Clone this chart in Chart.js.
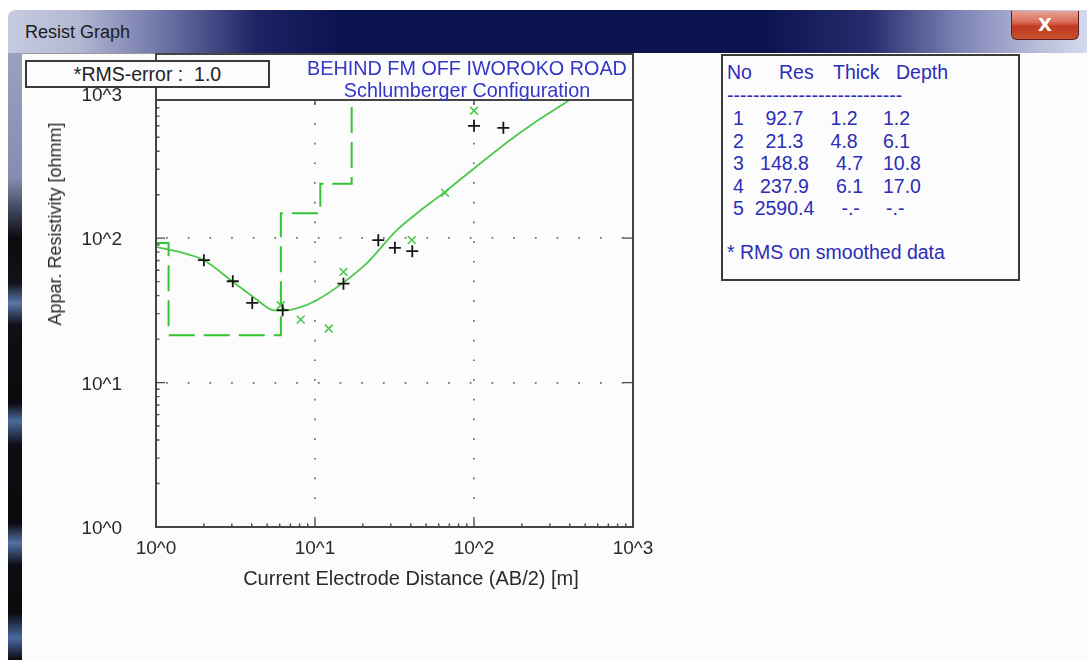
<!DOCTYPE html>
<html>
<head>
<meta charset="utf-8">
<script src="https://cdn.jsdelivr.net/npm/chart.js@4.4.1/dist/chart.umd.min.js"></script>
<style>
  html, body { margin:0; padding:0; width:1087px; height:660px; overflow:hidden; background:#ffffff;
    font-family:"Liberation Sans", Arial, sans-serif; }
  .abs { position:absolute; }
  #titlebar { left:8px; top:10px; width:1079px; height:43px; border-radius:7px 0 0 0;
    background:linear-gradient(to right,#c6cbe0 0px,#b2b8d2 70px,#6a70a4 160px,#1c2262 250px,#0c1450 330px,#0c1450 760px,#262c6c 860px,#7c82b4 950px,#b8bed8 1030px,#d4d9ec 1079px); }
  #titletext { left:25px; top:21px; font-size:18px; color:#1c1c1c; line-height:22px; }
  #closebtn { left:1011px; top:11px; width:68px; height:29px; box-sizing:border-box; border:1px solid #5a2020;
    border-top:none; border-radius:0 0 6px 6px;
    background:linear-gradient(#e8a496 0%,#d86a56 40%,#c03a22 55%,#c8502e 100%);
    color:#ffffff; font:bold 18px "DejaVu Sans", sans-serif; text-align:center; line-height:27px; }
  #leftborder { left:8px; top:53px; width:14px; height:607px;
    background:linear-gradient(to bottom,#9aa1c0 0px,#858db0 125px,#3a3f55 160px,#0b0b10 185px,#101217 230px,#5877a8 250px,#0e1016 272px,#0a0a0e 350px,#4d6c9e 368px,#0c0e14 392px,#0a0a0e 470px,#5272a4 490px,#0c0e14 512px,#0a0a0e 560px,#4a6aa0 585px,#0a0a10 607px); }
  #content { left:22px; top:53px; width:1065px; height:607px; background:#fcfcfc; }
  #contentline { left:22px; top:53px; width:134px; height:1px; background:#9a9a9a; }
  #c { position:absolute; left:0; top:0; z-index:2; }
  #rmsbox { left:25px; top:60px; width:245px; height:28px; box-sizing:border-box; border:2px solid #3a3a3a;
    background:#fcfcfc; z-index:3; font-size:19.5px; color:#222; text-align:center; line-height:25px; white-space:pre; }
  .ttl { z-index:3; font-size:19.8px; color:#3535c8; white-space:pre; line-height:22px; transform:translateX(-50%); }
  #xlab { z-index:3; font-size:20px; color:#2a2a2a; white-space:pre; line-height:22px; transform:translateX(-50%); left:411px; top:567px; }
  #ylab { z-index:3; font-size:18px; color:#2a2a2a; white-space:pre; line-height:20px; left:55px; top:224px;
    transform:translate(-50%,-50%) rotate(-90deg); }
  #tablebox { left:721px; top:54px; width:299px; height:227px; box-sizing:border-box; border:2px solid #3a3a3a;
    background:#fcfcfc; z-index:3; }
  .tt { z-index:4; font-size:19.5px; color:#2c2cb6; white-space:pre; line-height:22px; }
</style>
</head>
<body>
<div id="titlebar" class="abs"></div>
<div id="titletext" class="abs">Resist Graph</div>
<div id="closebtn" class="abs">X</div>
<div id="leftborder" class="abs"></div>
<div id="content" class="abs"></div>
<div id="contentline" class="abs"></div>
<canvas id="c" width="1087" height="660"></canvas>
<div id="rmsbox" class="abs">*RMS-error :  1.0</div>
<div class="abs ttl" style="left:467px;top:57px;">BEHIND FM OFF IWOROKO ROAD</div>
<div class="abs ttl" style="left:467px;top:79px;">Schlumberger Configuration</div>
<div id="xlab" class="abs">Current Electrode Distance (AB/2) [m]</div>
<div id="ylab" class="abs">Appar. Resistivity [ohmm]</div>
<div id="tablebox" class="abs"></div>
<div id="table"></div>
<script>
// ---- layered model (inversion result) ----
const layerNo    = [1, 2, 3, 4, 5];
const layerRes   = [92.7, 21.3, 148.8, 237.9, 2590.4];
const layerThick = [1.2, 4.8, 4.7, 6.1];
const layerDepth = [1.2, 6.1, 10.8, 17.0];

// ---- observed field data (black +) ----
const obsAB2 = [2.0, 3.04, 4.03, 6.26, 15.1, 25.0, 31.8, 40.9, 100, 153];
const obsRho = [70.4, 50.3, 35.6, 31.7, 48.4, 96.9, 85.7, 81.3, 600, 581];

// ---- smoothed data (green x) ----
const smAB2 = [6.09, 8.13, 12.2, 15.1, 40.6, 65.7, 100];
const smRho = [34.3, 27.3, 23.7, 58.4, 96.9, 206, 762];

// ---- calculated (fitted) curve ----
const fitAB2 = [1.0, 1.42, 2.0, 3.05, 4.19, 5.44, 6.29, 7.67, 10.25, 15.0, 21.1, 32.7, 43.6, 65.7, 100, 168, 236, 383, 398];
const fitRho = [87.0, 80.0, 70.4, 49.8, 38.4, 31.7, 31.4, 32.6, 37.2, 49.0, 66.8, 113.6, 148.3, 209.3, 304, 477, 623, 879, 905];

// ---- axes ----
const xTickValues = [1, 10, 100, 1000];
const yTickValues = [1, 10, 100, 1000];
const X_MIN = 1, X_MAX = 1000, Y_MIN = 1, Y_MAX = 905;

// ---- table (text) ----
(function buildTable(){
  const t = document.getElementById('table');
  function add(txt, left, cy){
    const d = document.createElement('div');
    d.className = 'abs tt'; d.textContent = txt;
    d.style.left = left + 'px'; d.style.top = (cy - 11) + 'px';
    t.appendChild(d);
  }
  add('No', 727, 72); add('Res', 779, 72); add('Thick', 833, 72); add('Depth', 896, 72);
  add('-'.repeat(27), 727, 95);
  layerNo.forEach((n, i) => {
    const cy = 118 + i * 22.5;
    const res = layerRes[i].toFixed(1).padStart(6, ' ');
    const th = i < layerThick.length ? layerThick[i].toFixed(1) : '-.-';
    add(n + '  ' + res + '     ' + th, 733, cy);
    const dp = i < layerDepth.length ? layerDepth[i].toFixed(1) : '-.-';
    add(dp, i < layerDepth.length ? 883 : 886, cy);
  });
  add('* RMS on smoothed data', 727, 252);
})();

// ---- datasets built from arrays ----
const obsData = obsAB2.map((x, i) => ({x, y: obsRho[i]}));
const smData  = smAB2.map((x, i) => ({x, y: smRho[i]}));
const fitData = fitAB2.map((x, i) => ({x, y: fitRho[i]}));
const stepData = [{x: X_MIN, y: layerRes[0]}];
layerDepth.forEach((d, i) => stepData.push({x: d, y: layerRes[i + 1]}));

const gridColor = (ctx) => {
  const v = ctx.tick && ctx.tick.value;
  return (v === 10 || v === 100) ? '#6c6c6c' : 'rgba(0,0,0,0)';
};

const frameTicks = {
  id: 'frameTicks',
  afterDraw(chart) {
    const {ctx, chartArea: a, scales: {x, y}} = chart;
    ctx.save();
    ctx.strokeStyle = '#4a4a4a';
    ctx.lineWidth = 1.4;
    ctx.beginPath();
    for (let d = 0; d < 3; d++) {
      for (let m = 2; m <= 9; m++) {
        const v = m * Math.pow(10, d);
        const py = y.getPixelForValue(v);
        if (py > a.top + 1) { ctx.moveTo(a.left, py); ctx.lineTo(a.left + 3.5, py); }
        const px = x.getPixelForValue(v);
        ctx.moveTo(px, a.bottom); ctx.lineTo(px, a.bottom - 3.5);
      }
    }
    [10, 100].forEach(v => {
      const py = y.getPixelForValue(v);
      ctx.moveTo(a.left, py); ctx.lineTo(a.left + 9, py);
      ctx.moveTo(a.right, py); ctx.lineTo(a.right - 10, py);
      const px = x.getPixelForValue(v);
      ctx.moveTo(px, a.bottom); ctx.lineTo(px, a.bottom - 8);
      ctx.moveTo(px, a.top); ctx.lineTo(px, a.top + 4);
    });
    ctx.stroke();
    ctx.lineWidth = 2;
    ctx.strokeStyle = '#454545';
    ctx.strokeRect(a.left, a.top, a.right - a.left, a.bottom - a.top);
    ctx.strokeRect(a.left, 54, a.right - a.left, a.top - 54);
    ctx.restore();
  }
};

Chart.defaults.font.family = '"Liberation Sans", Arial, sans-serif';

new Chart(document.getElementById('c'), {
  type: 'line',
  data: {
    datasets: [
      { label: 'Model', data: stepData, stepped: true, borderColor: '#33c433', borderWidth: 2,
        borderDash: [26, 9], pointRadius: 0, fill: false, order: 4 },
      { label: 'Calculated', data: fitData, borderColor: '#4cc84c', borderWidth: 1.8, pointRadius: 0,
        cubicInterpolationMode: 'monotone', fill: false, order: 3 },
      { label: 'Smoothed', data: smData, showLine: false, pointStyle: 'crossRot', pointRadius: 5.5,
        borderColor: '#4cc84c', backgroundColor: '#4cc84c', borderWidth: 1.6, order: 2 },
      { label: 'Observed', data: obsData, showLine: false, pointStyle: 'cross', pointRadius: 6,
        borderColor: '#151515', backgroundColor: '#151515', borderWidth: 1.8, order: 1 }
    ]
  },
  options: {
    responsive: false,
    animation: false,
    devicePixelRatio: 1,
    events: [],
    layout: { padding: { left: 0, right: 454, top: 100, bottom: 63 } },
    plugins: { legend: { display: false }, tooltip: { enabled: false }, title: { display: false } },
    scales: {
      x: {
        type: 'logarithmic', min: X_MIN, max: X_MAX, position: 'bottom',
        afterBuildTicks: s => { s.ticks = xTickValues.map(v => ({ value: v })); },
        afterFit: s => { s.height = 70; },
        grid: { drawTicks: false, color: gridColor, lineWidth: 1.7, borderDash: [1.7, 18], borderDashOffset: 16.4 },
        border: { display: false, dash: [1.7, 18], dashOffset: 16.4 },
        ticks: { autoSkip: false, maxRotation: 0, minRotation: 0, padding: 10.5, color: '#2a2a2a',
          font: { size: 19 }, callback: v => '10^' + Math.round(Math.log10(v)) }
      },
      y: {
        type: 'logarithmic', min: Y_MIN, max: Y_MAX, position: 'left',
        afterBuildTicks: s => { s.ticks = yTickValues.map(v => ({ value: v })); },
        afterFit: s => { s.width = 156; },
        grid: { drawTicks: false, color: gridColor, lineWidth: 1.7, borderDash: [1.7, 20], borderDashOffset: 11.7 },
        border: { display: false, dash: [1.7, 20], dashOffset: 11.7 },
        ticks: { autoSkip: false, padding: 34, labelOffset: 2, color: '#2a2a2a',
          font: { size: 19 }, callback: v => '10^' + Math.round(Math.log10(v)) }
      }
    }
  },
  plugins: [frameTicks]
});
</script>
</body>
</html>
